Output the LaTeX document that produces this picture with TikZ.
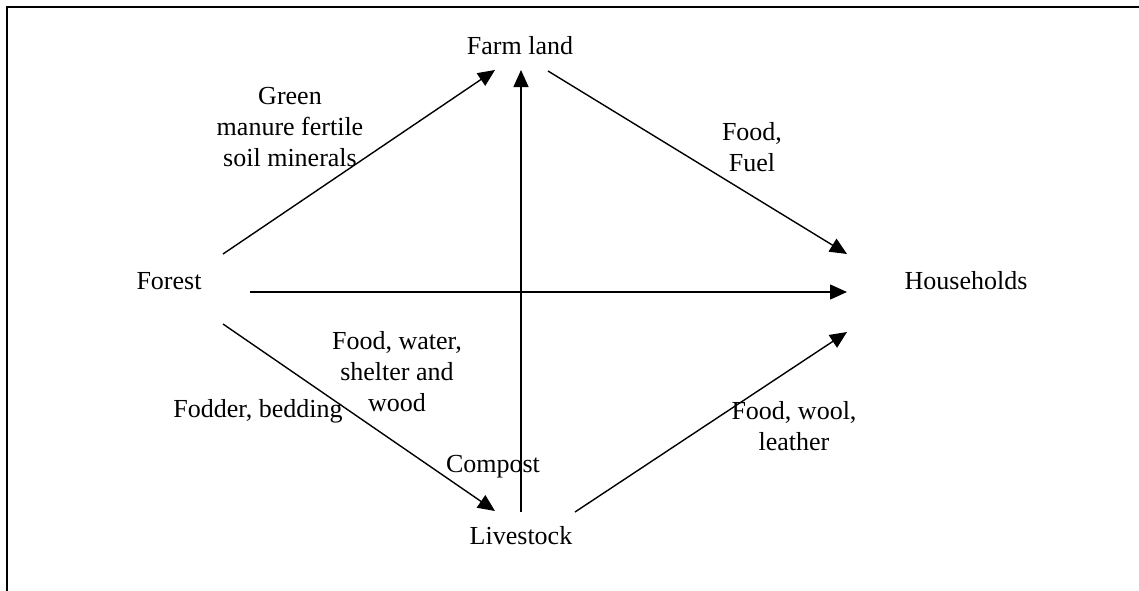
\documentclass[tikz,border=0pt]{standalone}
\usepackage{fontspec}
\setmainfont{Liberation Serif}
\usetikzlibrary{arrows.meta}
\begin{document}
\begin{tikzpicture}[x=1pt,y=-1pt,
  lbl/.style={font=\fontsize{26}{31}\selectfont, align=center, anchor=base, inner sep=0pt},
  conn/.style={line width=1.4pt, -{Triangle[length=17pt,width=15pt]}}]
\useasboundingbox (0,0) rectangle (1139,590);
\draw[line width=1.6pt] (7,600) -- (7,7) -- (1150,7);
% main nodes
\node[lbl] (farm) at (520,54) {Farm land};
\node[lbl] (forest) at (169,289) {Forest};
\node[lbl] (house) at (966,289) {Households};
\node[lbl] (live) at (521,544) {Livestock};
% labels (base anchor = last line's baseline)
\node[lbl] (lgreen) at (290,166) {Green\\manure fertile\\soil minerals};
\node[lbl] (lfuel) at (752,171) {Food,\\Fuel};
\node[lbl] (lwater) at (397,411) {Food, water,\\shelter and\\wood};
\node[lbl] (lfodder) at (258,417) {Fodder, bedding};
\node[lbl] (lcompost) at (493,472) {Compost};
\node[lbl] (lwool) at (794,450) {Food, wool,\\leather};
% connector end points
\coordinate (fo1) at (223,254);
\coordinate (fo2) at (250,292);
\coordinate (fo3) at (223,324);
\coordinate (fa1) at (495,70);
\coordinate (fa2) at (521,70);
\coordinate (fa3) at (548,71);
\coordinate (h1) at (847,254);
\coordinate (h2) at (847,292);
\coordinate (h3) at (847,332);
\coordinate (li1) at (495,511);
\coordinate (li2) at (521,512);
\coordinate (li3) at (575,512);
% connectors
\draw[conn] (fo1) -- (fa1);
\draw[conn] (li2) -- (fa2);
\draw[conn] (fa3) -- (h1);
\draw[conn] (fo2) -- (h2);
\draw[conn] (fo3) -- (li1);
\draw[conn] (li3) -- (h3);
\end{tikzpicture}
\end{document}
